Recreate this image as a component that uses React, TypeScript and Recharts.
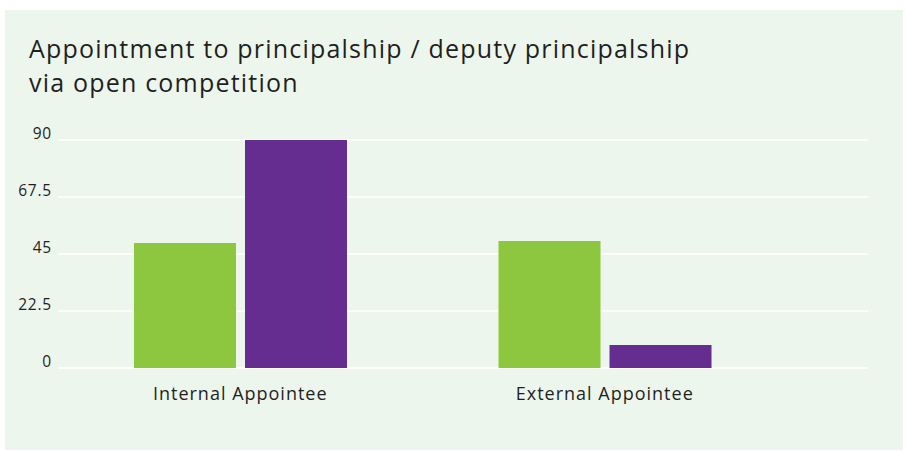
import { Bar, BarChart, CartesianGrid, XAxis, YAxis } from "recharts";

const categories = ["Internal Appointee", "External Appointee"];
const firstSeries = [49.3, 50.1];
const secondSeries = [90, 9.1];
const yTicks = [0, 22.5, 45, 67.5, 90];
const titleLines = ["Appointment to principalship / deputy principalship", "via open competition"];

const data = categories.map((name, i) => ({
  name,
  first: firstSeries[i],
  second: secondSeries[i],
}));

const font = "'Open Sans', sans-serif";
const ink = "#1f1f1f";

function YTick(props: any) {
  const { x, y, payload } = props;
  return (
    <text x={x} y={y - 1} textAnchor="end" fontSize={15.5} letterSpacing={0.8} fontFamily={font} fill={ink}>
      {payload.value}
    </text>
  );
}

function XTick(props: any) {
  const { x, y, payload } = props;
  return (
    <text x={x} y={y + 32} textAnchor="middle" fontSize={18} letterSpacing={1} fontFamily={font} fill={ink}>
      {payload.value}
    </text>
  );
}

export default function App() {
  return (
    <div style={{ position: "absolute", left: 0, top: 0, width: 906, height: 451, background: "#fff" }}>
      <div
        style={{
          position: "absolute",
          left: 5,
          top: 10,
          width: 898,
          height: 440,
          background: "#edf6ec",
        }}
      >
        <div
          style={{
            position: "absolute",
            left: 24,
            top: 21,
            fontFamily: font,
            fontSize: 25,
            letterSpacing: 1.2,
            lineHeight: "34px",
            color: ink,
          }}
        >
          {titleLines.map((line) => (
            <div key={line} style={{ height: 34, whiteSpace: "nowrap" }}>
              {line}
            </div>
          ))}
        </div>
        <BarChart
          width={898}
          height={440}
          data={data}
          margin={{ top: 130, right: 35, bottom: 52, left: 0 }}
          barGap={9}
          barSize={102}
        >
          <CartesianGrid vertical={false} stroke="#ffffff" strokeWidth={1.5} />
          <XAxis
            dataKey="name"
            axisLine={false}
            tickLine={false}
            padding={{ left: 0, right: 81 }}
            tick={<XTick />}
            tickSize={0}
            tickMargin={0}
          />
          <YAxis
            width={53}
            domain={[0, 90]}
            ticks={yTicks}
            axisLine={false}
            tickLine={false}
            tickSize={6}
            tickMargin={0}
            tick={<YTick />}
          />
          <Bar dataKey="first" fill="#8dc63f" isAnimationActive={false} />
          <Bar dataKey="second" fill="#662d91" isAnimationActive={false} />
        </BarChart>
      </div>
    </div>
  );
}
